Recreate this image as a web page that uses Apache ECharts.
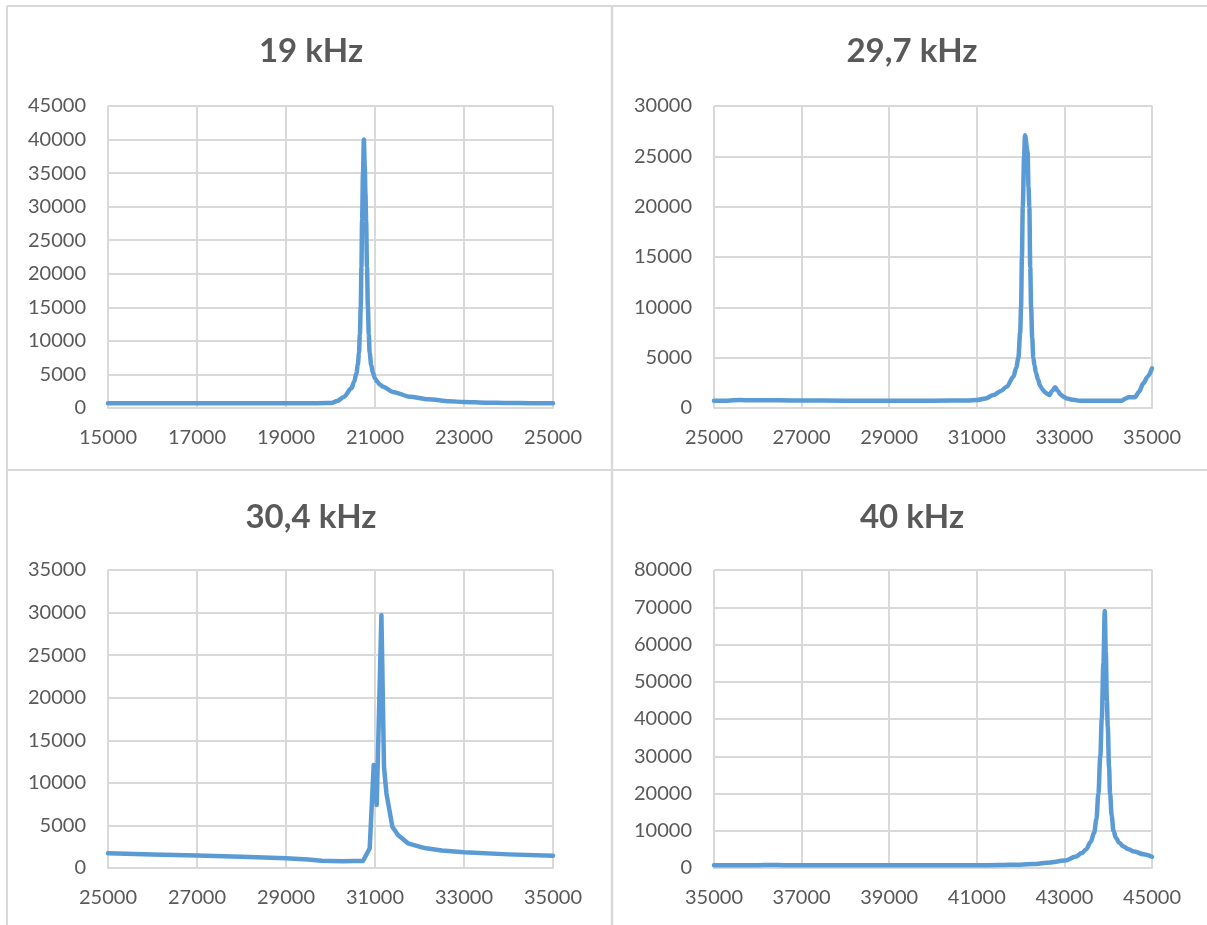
<!DOCTYPE html>
<html><head><meta charset="utf-8">
<script src="https://cdn.jsdelivr.net/npm/echarts/dist/echarts.min.js"></script>
<style>html,body{margin:0;padding:0;background:#fff}#c{width:1207px;height:925px}</style>
</head><body><div id="c"></div>
<script>
// ---- data ----
const titles = ['19 kHz', '29,7 kHz', '30,4 kHz', '40 kHz'];

const freq19 = [15000,16000,17000,18000,19000,19500,19900,20021,20150,20300,20470,20530,20582,20615,20640,20660,20680,20695,20710,20730,20750,20770,20785,20800,20820,20840,20860,20880,20915,20955,21000,21050,21110,21180,21400,21780,22200,22677,23000,23500,24000,24500,25000];
const amp19  = [700,700,700,700,700,710,730,760,1050,1650,2930,3900,5170,6500,8200,11000,15100,21000,28000,35000,40000,36000,32000,28000,21000,15100,11000,8200,6400,5200,4400,3900,3500,3170,2400,1690,1300,1000,900,800,750,720,700];

const freq297 = [25000,25300,25600,25800,26500,27000,28000,29000,30000,30800,31000,31200,31380,31550,31685,31836,31900,31950,31990,32011,32030,32050,32080,32100,32160,32180,32200,32220,32240,32265,32290,32320,32350,32400,32445,32500,32550,32600,32658,32720,32788,32850,32910,32977,33060,33150,33360,34000,34310,34400,34460,34614,34700,34803,34900,35000];
const amp297  = [720,730,790,760,770,740,730,730,730,740,790,950,1290,1700,2120,3110,4000,5000,7500,10000,15000,20000,25000,27100,25400,22000,20000,14000,10000,7000,5000,4200,3500,2800,2200,1850,1600,1420,1290,1700,2050,1700,1350,1120,950,850,720,710,720,950,1060,1080,1600,2450,3100,3940];

const freq304 = [25000,26000,27000,28000,29000,29500,29800,30000,30300,30500,30730,30881,30971,31000,31038,31144,31202,31256,31390,31517,31740,32000,32150,32500,33000,34000,35000];
const amp304  = [1720,1600,1460,1320,1140,1000,850,820,800,830,820,2310,12100,12000,7400,29700,11900,8800,4850,3880,2900,2500,2310,2050,1840,1600,1450];

const freq40 = [35000,35500,36000,36300,36600,37000,38000,39000,40000,41000,41500,42000,42292,42600,43016,43250,43400,43495,43600,43680,43730,43776,43820,43853,43890,43922,43945,43970,43990,44020,44043,44080,44120,44180,44250,44350,44450,44600,44800,45000];
const amp40  = [720,730,760,820,760,740,730,730,730,740,780,900,1070,1400,2000,3000,4000,5000,7000,9500,13000,20000,30000,40000,55000,69000,58000,45000,38000,27000,20000,14000,10000,8000,6800,5800,5100,4400,3700,3000];

const xMin = [15000, 25000, 25000, 35000];
const xMax = [25000, 35000, 35000, 45000];
const xStep = [2000, 2000, 2000, 2000];
const yMax = [45000, 30000, 35000, 80000];
const yStep = [5000, 5000, 5000, 10000];

const freqs = [freq19, freq297, freq304, freq40];
const amps = [amp19, amp297, amp304, amp40];

// ---- layout ----
const grids = [
  {left: 108, top: 106, width: 445, height: 302},
  {left: 714, top: 106, width: 438, height: 302},
  {left: 108, top: 570, width: 445, height: 298},
  {left: 714, top: 570, width: 438, height: 298}
];
const titlePos = [[306, 30], [907, 30], [306, 496], [907, 496]];
const smoothOpt = [0.3, 0.3, false, 0.35];

const FONT = 'Lato, "Open Sans", sans-serif';
const TXT = '#595959';
const GRID = '#d9d9d9';

const option = {
  animation: false,
  backgroundColor: '#fff',
  title: titles.map((t, i) => ({
    text: t, left: titlePos[i][0], top: titlePos[i][1], textAlign: 'center',
    textStyle: {fontFamily: FONT, fontWeight: 'bold', fontSize: 33, color: TXT}
  })),
  grid: grids,
  xAxis: grids.map((g, i) => ({
    type: 'value', gridIndex: i, min: xMin[i], max: xMax[i], interval: xStep[i],
    axisLine: {show: true, lineStyle: {color: GRID, width: 2}},
    axisTick: {show: false},
    splitLine: {show: true, lineStyle: {color: GRID, width: 2}},
    axisLabel: {color: TXT, fontFamily: FONT, fontSize: 20, margin: 20, formatter: v => String(v)}
  })),
  yAxis: grids.map((g, i) => ({
    type: 'value', gridIndex: i, min: 0, max: yMax[i], interval: yStep[i],
    axisLine: {show: false}, axisTick: {show: false},
    splitLine: {show: true, lineStyle: {color: GRID, width: 2}},
    axisLabel: {color: TXT, fontFamily: FONT, fontSize: 20, margin: 22, formatter: v => String(v)}
  })),
  series: freqs.map((f, i) => ({
    type: 'line', xAxisIndex: i, yAxisIndex: i,
    data: f.map((x, k) => [x, amps[i][k]]),
    showSymbol: false, smooth: smoothOpt[i], smoothMonotone: 'x',
    lineStyle: {color: '#5b9bd5', width: 4.5, cap: 'round', join: 'round'},
    itemStyle: {color: '#5b9bd5'}
  })),
  graphic: [
    {type: 'line', shape: {x1: 7, y1: 6, x2: 1207, y2: 6}, style: {stroke: GRID, lineWidth: 2}},
    {type: 'line', shape: {x1: 7, y1: 6, x2: 7, y2: 925}, style: {stroke: GRID, lineWidth: 2}},
    {type: 'line', shape: {x1: 612, y1: 6, x2: 612, y2: 925}, style: {stroke: GRID, lineWidth: 2.5}},
    {type: 'line', shape: {x1: 7, y1: 470, x2: 1207, y2: 470}, style: {stroke: GRID, lineWidth: 2}}
  ]
};

const chart = echarts.init(document.getElementById('c'), null, {renderer: 'canvas'});
chart.setOption(option);
</script>
</body></html>
